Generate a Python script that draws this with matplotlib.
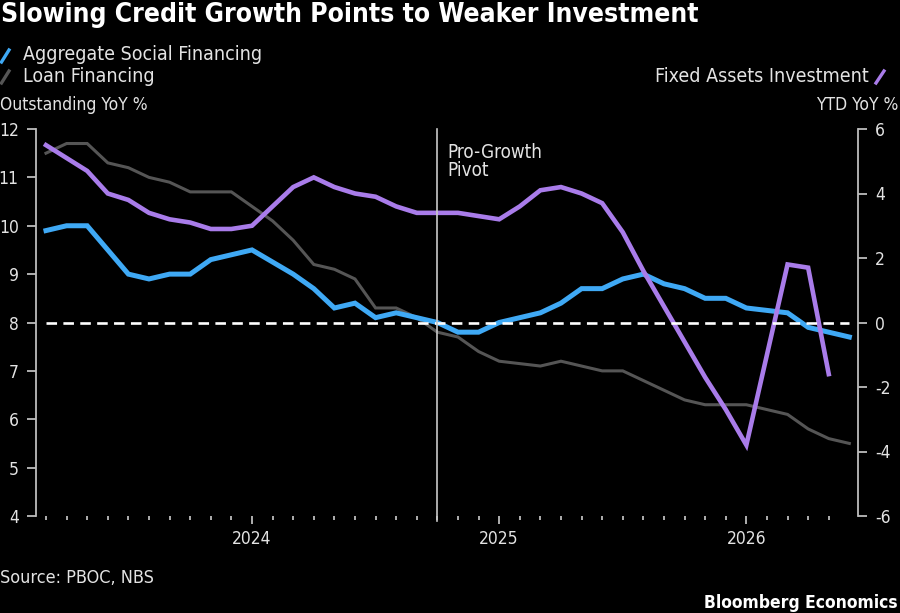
import numpy as np
import pandas as pd
import matplotlib
matplotlib.use("Agg")
import matplotlib.pyplot as plt
from matplotlib.lines import Line2D
import matplotlib.transforms as mtransforms

# ---------------- data ----------------
months = pd.date_range("2023-03-01", "2026-06-01", freq="MS")
asf = [9.9, 10.0, 10.0, 9.5, 9.0, 8.9, 9.0, 9.0, 9.3, 9.4,
       9.5, 9.25, 9.0, 8.7, 8.3, 8.4, 8.1, 8.2, 8.1, 8.0,
       7.8, 7.8, 8.0, 8.1, 8.2, 8.4, 8.7, 8.7, 8.9, 9.0,
       8.8, 8.7, 8.5, 8.5, 8.3, 8.25, 8.2, 7.9, 7.8, 7.7]
loans = [11.5, 11.7, 11.7, 11.3, 11.2, 11.0, 10.9, 10.7, 10.7, 10.7,
         10.4, 10.1, 9.7, 9.2, 9.1, 8.9, 8.3, 8.3, 8.1, 7.8,
         7.7, 7.4, 7.2, 7.15, 7.1, 7.2, 7.1, 7.0, 7.0, 6.8,
         6.6, 6.4, 6.3, 6.3, 6.3, 6.2, 6.1, 5.8, 5.6, 5.5]
fai = [5.5, 5.1, 4.7, 4.0, 3.8, 3.4, 3.2, 3.1, 2.9, 2.9,
       3.0, 3.6, 4.2, 4.5, 4.2, 4.0, 3.9, 3.6, 3.4, 3.4,
       3.4, 3.3, 3.2, 3.6, 4.1, 4.2, 4.0, 3.7, 2.8, 1.6,
       0.5, -0.6, -1.7, -2.7, -3.8, -1.0, 1.8, 1.7, -1.6]
left_ticks = [4, 5, 6, 7, 8, 9, 10, 11, 12]
right_ticks = [-6, -4, -2, 0, 2, 4, 6]
pivot_month = pd.Timestamp("2024-10-01")
tick_end = pd.Timestamp("2026-05-01")

# ---------------- style ----------------
plt.rcParams["font.family"] = ["DejaVu Sans"]
plt.rcParams["font.stretch"] = "condensed"
BG = "black"
TXT = "#e3e3e3"
AXC = "#bdbdbd"
BLUE = "#3fa9f5"
PURPLE = "#a97cea"
GRAY = "#555555"

W, H = 900, 613
fig = plt.figure(figsize=(W / 100, H / 100), dpi=100, facecolor=BG)
ax = fig.add_axes([36 / W, 1 - 516 / H, (858 - 36) / W, (516 - 129) / H])
ax.set_facecolor(BG)
ax2 = ax.twinx()

x = np.arange(len(months))
xf = np.arange(len(fai))

ax.plot(x, loans, color=GRAY, lw=2.2, zorder=2, solid_joinstyle="miter")
ax.plot(x, asf, color=BLUE, lw=3.6, zorder=3, solid_joinstyle="miter")
ax2.plot(xf, fai, color=PURPLE, lw=3.3, zorder=3, solid_joinstyle="miter")
ax2.plot([x[0], x[-1]], [0, 0], color="white", lw=1.9, ls=(0, (4, 2.4)), zorder=4)

pivot_idx = int(np.where(months == pivot_month)[0][0])
ax2.axvline(pivot_idx, ymin=-0.012, ymax=1, color="#c9c9c9", lw=1.2, zorder=5, clip_on=False)
trans = mtransforms.blended_transform_factory(ax.transData, ax.transAxes)
ax2.text(pivot_idx + 0.5, 0.965, "Pro-Growth\nPivot", transform=trans, color=TXT,
         fontsize=13.5, va="top", ha="left", linespacing=0.95)

ax.set_xlim(-0.485, 39.42)
ax.set_ylim(4, 12)
ax2.set_ylim(-6, 6)

# ticks
ax.set_yticks(left_ticks)
ax2.set_yticks(right_ticks)
ax2.set_yticklabels([str(t) for t in right_ticks])
tick_idx = [i for i, m in enumerate(months) if m <= tick_end]
jan_idx = [i for i in tick_idx if months[i].month == 1]
ax.set_xticks(jan_idx)
ax.set_xticklabels([str(months[i].year) for i in jan_idx])
ax.set_xticks([i for i in tick_idx if i not in jan_idx], minor=True)

for a in (ax, ax2):
    for s in a.spines.values():
        s.set_visible(False)
ax.spines["left"].set_visible(True)
ax.spines["left"].set_color(AXC)
ax.spines["left"].set_linewidth(1.3)
ax2.spines["right"].set_visible(True)
ax2.spines["right"].set_color(AXC)
ax2.spines["right"].set_linewidth(1.3)

ax.tick_params(axis="y", direction="out", length=6.5, width=1.3, color=AXC,
               labelcolor=TXT, labelsize=12.5, pad=6)
ax2.tick_params(axis="y", direction="out", length=6.5, width=1.3, color=AXC,
                labelcolor=TXT, labelsize=12.5, pad=6)
ax.tick_params(axis="x", which="major", direction="out", length=6, width=1.3,
               color=AXC, labelcolor=TXT, labelsize=12.5, pad=4)
ax.tick_params(axis="x", which="minor", direction="out", length=3, width=1.3, color=AXC)

# ---------------- texts ----------------
fig.text(0.0015, 1 - 15 / H, "Slowing Credit Growth Points to Weaker Investment",
         color="white", fontsize=19, fontweight="bold", va="center", ha="left")

LEG = 14
fig.add_artist(Line2D([1.5 / W, 9 / W], [1 - 62 / H, 1 - 50 / H], color=BLUE, lw=2.4))
fig.text(23 / W, 1 - 55 / H, "Aggregate Social Financing", color=TXT, fontsize=LEG,
         va="center", ha="left")
fig.add_artist(Line2D([1.5 / W, 9 / W], [1 - 83 / H, 1 - 71 / H], color=GRAY, lw=2.4))
fig.text(23 / W, 1 - 76 / H, "Loan Financing", color=TXT, fontsize=LEG,
         va="center", ha="left")
fig.text(869 / W, 1 - 76 / H, "Fixed Assets Investment", color=TXT, fontsize=LEG,
         va="center", ha="right")
fig.add_artist(Line2D([876 / W, 884 / W], [1 - 83 / H, 1 - 71 / H], color=PURPLE, lw=2.4))

fig.text(0.0, 1 - 105 / H, "Outstanding YoY %", color=TXT, fontsize=12.5,
         va="center", ha="left")
fig.text(898 / W, 1 - 105 / H, "YTD YoY %", color=TXT, fontsize=12.5,
         va="center", ha="right")

fig.text(0.0, 1 - 578 / H, "Source: PBOC, NBS", color=TXT, fontsize=13,
         va="center", ha="left")
fig.text(898 / W, 1 - 603 / H, "Bloomberg Economics", color="white", fontsize=12.5,
         fontweight="bold", va="center", ha="right")

fig.savefig("out.png", dpi=100, facecolor=BG)
